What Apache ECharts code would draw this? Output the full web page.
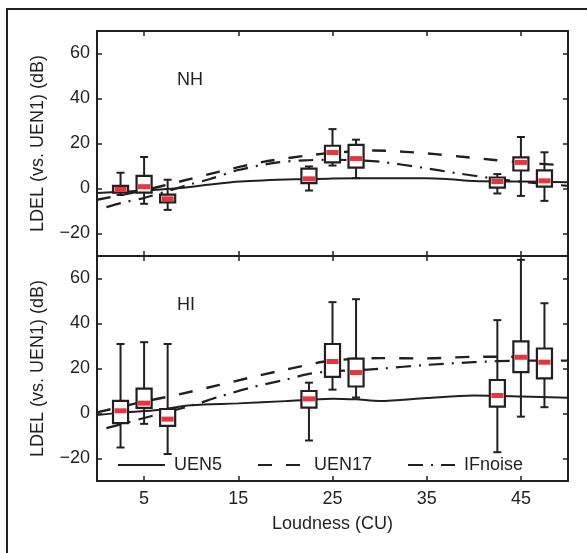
<!DOCTYPE html>
<html>
<head>
<meta charset="utf-8">
<title>LDEL vs loudness</title>
<script src="https://cdn.jsdelivr.net/npm/echarts@6/dist/echarts.min.js"></script>
<style>
  html, body { margin: 0; padding: 0; background: #fff; }
  #main { width: 587px; height: 553px; }
</style>
</head>
<body>
<div id="main"></div>
<script type="text/javascript">
// box positions (CU) and stats [min, q1, median, q3, max]
var boxX = [2.5, 5, 7.5, 22.5, 25, 27.5, 42.5, 45, 47.5];
var nhBoxes = [
  [-2.9, -1.8, -0.4, 1.2, 7.0],
  [-6.8, -1.8, 0.8, 5.6, 14.0],
  [-9.5, -6.2, -4.6, -2.7, 3.9],
  [-0.9, 2.4, 4.3, 8.8, 9.8],
  [10.2, 11.6, 16.0, 19.0, 26.4],
  [4.6, 9.3, 13.3, 19.4, 21.7],
  [-2.2, 0.4, 3.1, 4.9, 6.4],
  [-3.3, 8.0, 11.6, 13.8, 22.9],
  [-5.5, 0.8, 3.4, 8.1, 16.1]
];
var hiBoxes = [
  [-15.1, -4.3, 1.2, 5.6, 30.9],
  [-4.6, 2.5, 4.6, 11.1, 31.7],
  [-18.0, -5.5, -2.5, 2.0, 30.9],
  [-12.0, 2.6, 6.5, 10.0, 13.7],
  [10.6, 16.3, 23.1, 30.9, 49.5],
  [7.1, 12.0, 18.2, 24.4, 50.8],
  [-17.2, 3.1, 8.0, 14.9, 41.5],
  [-1.4, 18.4, 25.0, 32.1, 68.3],
  [2.8, 15.6, 22.8, 28.9, 49.0]
];

// model curves [loudness, LDEL]
var nhUEN5 = [[0, -2], [4.6, -1], [8.9, 0.2], [12, 1.8], [15.2, 3.1], [21, 4.1], [25, 4.4], [30, 4.6], [35, 4.6], [37.5, 4.1], [40, 3.3], [45, 3.1], [50, 2.8]];
var nhUEN17 = [[0, -5], [5, -0.8], [8.8, 3.1], [13, 7.5], [17.5, 11.7], [22, 14.5], [25, 15.8], [29.5, 16.9], [32.7, 16.3], [35.9, 15.3], [38.5, 14.2], [41.9, 12.8], [45, 11.6], [50, 10.2]];
var nhIFnoise = [[1, -8.3], [2.5, -6.5], [5, -4.2], [8, -0.5], [10, 2], [12, 4.2], [15, 8.2], [19, 11.5], [22, 12.5], [25, 12.8], [27.5, 12.5], [30, 11.9], [34.5, 9.3], [38.2, 6.8], [41.9, 4.6], [45, 3], [50, 1.2]];
var hiUEN5 = [[0, -0.7], [3, 0.5], [6.5, 1.6], [10, 3.7], [15, 4.5], [20, 5.5], [25, 6.6], [27.5, 6.3], [30, 5.6], [35, 6.9], [40, 8.0], [45, 7.6], [50, 7.0]];
var hiUEN17 = [[0, 0.5], [5, 5.3], [8.7, 8.5], [13, 12.7], [16, 15.7], [19, 18.6], [21.8, 21.1], [24, 23], [27, 24.2], [30, 24.6], [35, 24.5], [40, 25.2], [44, 25.2], [47.5, 23.4], [50, 23.4]];
var hiIFnoise = [[1, -6.5], [3, -4.3], [5, -2], [10, 3.5], [13, 7.5], [16.5, 11.7], [20, 15], [22.5, 17.6], [25, 18.8], [27.5, 19.2], [30, 19.9], [35, 21.6], [40, 22.8], [45, 23.5], [50, 23.5]];

var xTicks = [5, 15, 25, 35, 45];
var yTicks = [-20, 0, 20, 40, 60];
var seriesNames = ['UEN5', 'UEN17', 'IFnoise'];

var ink = '#231f20';
var font = 'Liberation Sans, Arial, Helvetica, sans-serif';
var boxW = 1.6;

function boxRender(params, api) {
  var x = api.value(0);
  var lo = api.coord([x, api.value(1)]);
  var q1 = api.coord([x, api.value(2)]);
  var md = api.coord([x, api.value(3)]);
  var q3 = api.coord([x, api.value(4)]);
  var hi = api.coord([x, api.value(5)]);
  var half = api.size([boxW, 0])[0] / 2;
  var cap = 4;
  var st = { stroke: ink, lineWidth: 2, fill: null };
  return {
    type: 'group',
    children: [
      { type: 'line', shape: { x1: lo[0], y1: lo[1], x2: q1[0], y2: q1[1] }, style: st },
      { type: 'line', shape: { x1: q3[0], y1: q3[1], x2: hi[0], y2: hi[1] }, style: st },
      { type: 'line', shape: { x1: lo[0] - cap, y1: lo[1], x2: lo[0] + cap, y2: lo[1] }, style: st },
      { type: 'line', shape: { x1: hi[0] - cap, y1: hi[1], x2: hi[0] + cap, y2: hi[1] }, style: st },
      { type: 'rect', shape: { x: q3[0] - half, y: q3[1], width: half * 2, height: q1[1] - q3[1] },
        style: { fill: '#fff', stroke: ink, lineWidth: 2.2 } },
      { type: 'rect', shape: { x: md[0] - half + 1.5, y: md[1] - 2.5, width: half * 2 - 3, height: 5 },
        style: { fill: '#e8343c' } }
    ]
  };
}

function boxData(stats) {
  return stats.map(function (s, i) { return [boxX[i]].concat(s); });
}

function xAxisFor(grid, pos, showLabels) {
  return {
    type: 'value', gridIndex: grid, position: pos, min: 0, max: 50,
    axisLine: { show: true, onZero: false, lineStyle: { color: ink, width: 2 } },
    axisTick: { show: true, inside: true, length: 5, customValues: xTicks, lineStyle: { color: ink, width: 1.5 } },
    axisLabel: { show: showLabels, customValues: xTicks, color: ink, fontSize: 18, fontFamily: font, margin: 9 },
    splitLine: { show: false },
    name: showLabels ? 'Loudness (CU)' : '',
    nameLocation: 'middle', nameGap: 34,
    nameTextStyle: { color: ink, fontSize: 18, fontFamily: font }
  };
}

function yAxisFor(grid, pos) {
  var left = pos === 'left';
  return {
    type: 'value', gridIndex: grid, position: pos, min: -30, max: 70,
    axisLine: { show: true, onZero: false, lineStyle: { color: ink, width: 2 } },
    axisTick: { show: true, inside: true, length: 5, customValues: yTicks, lineStyle: { color: ink, width: 1.5 } },
    axisLabel: { show: left, customValues: yTicks, color: ink, fontSize: 18, fontFamily: font, margin: 7,
      formatter: function (v) { return v < 0 ? '\u2212' + Math.abs(v) : String(v); } },
    splitLine: { show: false },
    name: left ? 'LDEL (vs. UEN1) (dB)' : '',
    nameLocation: 'middle', nameGap: 50,
    nameTextStyle: { color: ink, fontSize: 18, fontFamily: font }
  };
}

var lineStyles = [
  { color: ink, width: 2, type: 'solid' },
  { color: ink, width: 2.4, type: [14, 14] },
  { color: ink, width: 2.2, type: [15, 8, 2, 8] }
];

function curve(name, data, idx) {
  return {
    name: name, type: 'line', xAxisIndex: idx, yAxisIndex: idx,
    data: data, smooth: 0.3, symbol: 'none', showSymbol: false,
    lineStyle: lineStyles[seriesNames.indexOf(name)],
    itemStyle: { color: ink }, z: 2, silent: true
  };
}

var myChart = echarts.init(document.getElementById('main'));
myChart.setOption({
  animation: false,
  backgroundColor: '#fff',
  textStyle: { fontFamily: font },
  grid: [
    { left: 97, top: 31, width: 471, height: 225 },
    { left: 97, top: 256, width: 471, height: 225 }
  ],
  xAxis: [
    xAxisFor(0, 'bottom', false), xAxisFor(1, 'bottom', true),
    xAxisFor(0, 'top', false), xAxisFor(1, 'top', false)
  ],
  yAxis: [
    yAxisFor(0, 'left'), yAxisFor(1, 'left'),
    yAxisFor(0, 'right'), yAxisFor(1, 'right')
  ],
  title: [
    { text: 'NH', left: 172, top: 66, textStyle: { color: ink, fontSize: 18, fontWeight: 'normal', fontFamily: font } },
    { text: 'HI', left: 172, top: 291, textStyle: { color: ink, fontSize: 18, fontWeight: 'normal', fontFamily: font } }
  ],
  legend: {
    data: seriesNames, left: 112, top: 451, itemWidth: 47, itemHeight: 14, itemGap: 35,
    itemStyle: { opacity: 0 },
    textStyle: { color: ink, fontSize: 18, fontFamily: font, padding: [0, 0, 0, 4] },
    selectedMode: false
  },
  graphic: [
    { type: 'rect', shape: { x: 7, y: 9, width: 640, height: 620 }, style: { fill: null, stroke: ink, lineWidth: 2 }, z: 100 }
  ],
  series: [
    curve('UEN5', nhUEN5, 0), curve('UEN17', nhUEN17, 0), curve('IFnoise', nhIFnoise, 0),
    curve('UEN5', hiUEN5, 1), curve('UEN17', hiUEN17, 1), curve('IFnoise', hiIFnoise, 1),
    { type: 'custom', xAxisIndex: 0, yAxisIndex: 0, renderItem: boxRender, data: boxData(nhBoxes),
      encode: { x: 0, y: [1, 2, 3, 4, 5] }, z: 5, silent: true },
    { type: 'custom', xAxisIndex: 1, yAxisIndex: 1, renderItem: boxRender, data: boxData(hiBoxes),
      encode: { x: 0, y: [1, 2, 3, 4, 5] }, z: 5, silent: true }
  ]
});
</script>
</body>
</html>
